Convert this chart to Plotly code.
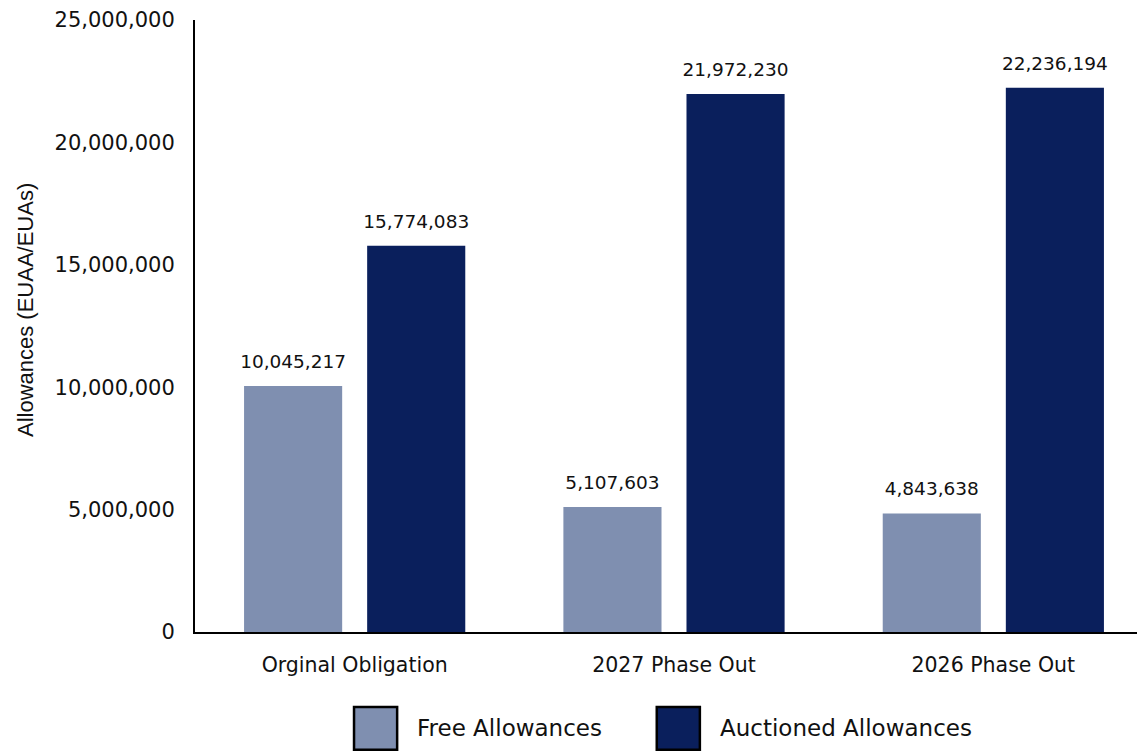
import plotly.graph_objects as go

categories = ["Orginal Obligation", "2027 Phase Out", "2026 Phase Out"]
series_names = ["Free Allowances", "Auctioned Allowances"]
free_allowances = [10045217, 5107603, 4843638]
auctioned_allowances = [15774083, 21972230, 22236194]
y_ticks = [0, 5000000, 10000000, 15000000, 20000000, 25000000]
y_tick_labels = ["0", "5,000,000", "10,000,000", "15,000,000", "20,000,000", "25,000,000"]
y_title = "Allowances (EUAA/EUAs)"

colors = ["#7f8fb0", "#0a1f5c"]
FONT = "DejaVu Sans"
TXT = "#111111"
GAP = 0.229

fig = go.Figure()
for name, vals, col in zip(series_names, [free_allowances, auctioned_allowances], colors):
    fig.add_trace(go.Bar(
        name=name, x=categories, y=vals, offsetgroup=name,
        marker=dict(color=col, line=dict(width=0)),
        showlegend=False, hoverinfo="x+y+name",
    ))
for name, vals in zip(series_names, [free_allowances, auctioned_allowances]):
    fig.add_trace(go.Scatter(
        x=categories, y=vals, mode="markers+text", offsetgroup=name,
        marker=dict(size=20, opacity=0),
        text=[f"{v:,}" for v in vals], textposition="top center",
        textfont=dict(family=FONT, size=18.5, color=TXT),
        showlegend=False, hoverinfo="skip", cliponaxis=False,
    ))

fig.update_layout(
    width=1145, height=751,
    margin=dict(l=187, r=0, t=12, b=127),
    paper_bgcolor="white", plot_bgcolor="white",
    barmode="group", bargap=GAP, bargroupgap=0.203,
    scattermode="group", scattergap=GAP,
    font=dict(family=FONT, color=TXT),
    showlegend=False,
)

# legend drawn as swatches below the plot
legend_swatch_x = [(0.166, 0.211), (0.482, 0.527)]
for (x0, x1), col, name in zip(legend_swatch_x, colors, series_names):
    fig.add_shape(type="rect", xref="paper", yref="paper", x0=x0, x1=x1, y0=-0.1925, y1=-0.1225,
                  fillcolor=col, line=dict(color="black", width=2.5))
    fig.add_annotation(xref="paper", yref="paper", x=x1 + 0.019, y=-0.157, xanchor="left", yanchor="middle",
                       text=name, showarrow=False, font=dict(family=FONT, size=23, color=TXT))

# y-axis title
fig.add_annotation(xref="paper", yref="paper", x=-0.1775, y=0.526, xanchor="center", yanchor="middle",
                   text=y_title, textangle=-90, showarrow=False,
                   font=dict(family="Liberation Sans", size=22, color=TXT))

fig.update_xaxes(
    showline=True, linecolor="black", linewidth=2, showgrid=False,
    ticks="", tickfont=dict(family=FONT, size=20.5, color=TXT),
    ticklabelstandoff=13,
)
fig.update_yaxes(
    range=[0, 25000000], tickvals=y_ticks, ticktext=y_tick_labels,
    showline=True, linecolor="black", linewidth=2, showgrid=False, zeroline=False,
    ticks="", tickfont=dict(family=FONT, size=21, color=TXT),
    ticklabelstandoff=14,
)

fig.write_html("out.html")
